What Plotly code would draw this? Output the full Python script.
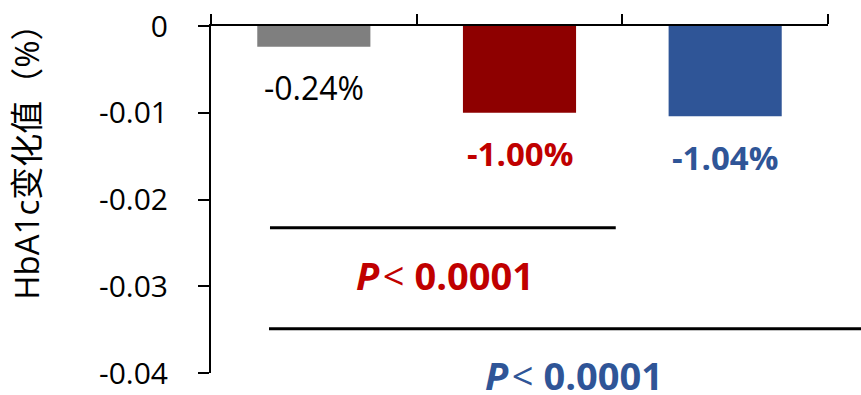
import plotly.graph_objects as go

# ---- data ----
categories = ["对照组", "治疗组A", "治疗组B"]
changes = [-0.0024, -0.0100, -0.0104]
bar_colors = ["#7F7F7F", "#8E0000", "#2F5597"]
label_colors = ["#000000", "#C00000", "#2F5597"]
label_bold = [False, True, True]
y_tickvals = [0, -0.01, -0.02, -0.03, -0.04]
y_ticktext = ["0", "-0.01", "-0.02", "-0.03", "-0.04"]
p_symbol = "P"
p_values = ["0.0001", "0.0001"]
p_colors = ["#C00000", "#2F5597"]
y_title = "HbA1c变化值（%）"

FONT = "Open Sans, Noto Sans CJK SC, sans-serif"

fig = go.Figure()
fig.add_trace(go.Bar(
    x=categories, y=changes,
    marker=dict(color=bar_colors, line=dict(width=0)),
    showlegend=False, hoverinfo="skip",
))

annotations = []
# value labels under each bar
for c, v, col, b in zip(categories, changes, label_colors, label_bold):
    txt = f"{v:.2%}"
    size = 32
    if b:
        txt = f"<b>{txt}</b>"
        size = 33
    annotations.append(dict(
        x=c, y=v, xref="x", yref="y", text=txt, showarrow=False,
        yanchor="middle", xanchor="center", yshift=-41,
        font=dict(family=FONT, size=size, color=col),
    ))

# y-axis title
annotations.append(dict(
    x=-0.298, y=0.632, xref="paper", yref="paper", text=y_title,
    textangle=-90, showarrow=False, xanchor="center", yanchor="middle",
    font=dict(family=FONT, size=33, color="#000000"),
))

# significance texts
p_pos = [(0.379, 0.2824), (0.588, -0.0060)]
for pv, col, (px, py) in zip(p_values, p_colors, p_pos):
    annotations.append(dict(
        x=px, y=py, xref="paper", yref="paper",
        text=(f"<b><i>{p_symbol}</i></b><span style='font-size:14px'> </span>"
              f"&lt; <b>{pv}</b>"),
        showarrow=False, xanchor="center", yanchor="middle",
        font=dict(family=FONT, size=38, color=col),
    ))

# comparison lines
shapes = [
    dict(type="line", xref="paper", yref="y", x0=0.0956, x1=0.656,
         y0=-0.02325, y1=-0.02325, line=dict(color="#000000", width=3)),
    dict(type="line", xref="paper", yref="y", x0=0.094, x1=1.06,
         y0=-0.0349, y1=-0.0349, line=dict(color="#000000", width=3)),
]

fig.update_layout(
    width=861, height=395,
    margin=dict(l=211, r=33, t=26, b=22),
    paper_bgcolor="white", plot_bgcolor="white",
    bargap=0.45,
    annotations=annotations, shapes=shapes,
    font=dict(family=FONT, color="#000000"),
    xaxis=dict(
        type="category", side="top", showticklabels=False,
        showline=True, linecolor="#000000", linewidth=2,
        ticks="outside", ticklen=10, tickwidth=2, tickcolor="#000000",
        tickson="boundaries", showgrid=False, zeroline=False,
        range=[-0.5, 2.5], automargin=False,
    ),
    yaxis=dict(
        range=[-0.04, 0], tickvals=y_tickvals, ticktext=y_ticktext,
        showline=True, linecolor="#000000", linewidth=2,
        ticks="outside", ticklen=11, tickwidth=2, tickcolor="#000000",
        ticklabelstandoff=24, showgrid=False, zeroline=False,
        automargin=False,
        tickfont=dict(family=FONT, size=30, color="#000000"),
    ),
)

fig.write_html(
    "out.html",
    config={"displayModeBar": False},
    post_script="document.body.style.margin='0';document.body.style.overflow='hidden';",
)
